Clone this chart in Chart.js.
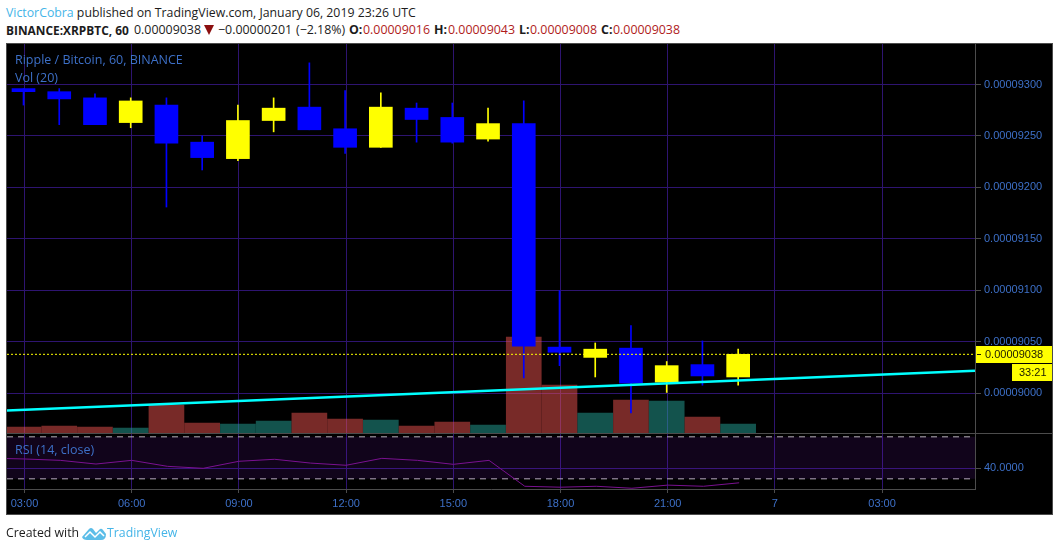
<!DOCTYPE html>
<html>
<head>
<meta charset="utf-8">
<script src="https://cdn.jsdelivr.net/npm/chart.js@4"></script>
<style>
html, body { margin: 0; padding: 0; background: #fff; }
body { width: 1059px; height: 551px; position: relative; overflow: hidden; font-family: "Open Sans", sans-serif; }
.txt { position: absolute; white-space: pre; font-size: 12.3px; line-height: 16px; color: #1c1c1c; }
.line2 { top: 22px; font-size: 12.4px; }
.panel { position: absolute; left: 6px; top: 43px; width: 1045px; height: 470px; background: #000; border: 1px solid #4c4c4c; }
.red { color: #b01c1c; }
.blue { color: #45b5e8; }
.ov { color: #3d70c8; font-size: 12.5px; }
canvas { position: absolute; left: 7px; }
</style>
</head>
<body>
<div class="txt" style="left:6px;top:5px"><span class="blue">VictorCobra</span> published on TradingView.com, January 06, 2019 23:26 UTC</div>
<b class="txt line2" style="left:6px;font-size:11.9px">BINANCE:XRPBTC, 60</b>
<div class="txt line2" style="left:134px">0.00009038</div>
<svg style="position:absolute;left:204px;top:25px" width="10" height="10"><polygon points="0,0 10,0 5,10" fill="#8b0f0f"/></svg>
<div class="txt line2" style="left:218px">−0.00000201</div>
<div class="txt line2" style="left:296px">(−2.18%)</div>
<b class="txt line2" style="left:349px">O:</b><div class="txt line2 red" style="left:363px">0.00009016</div>
<b class="txt line2" style="left:434px">H:</b><div class="txt line2 red" style="left:448px">0.00009043</div>
<b class="txt line2" style="left:519px">L:</b><div class="txt line2 red" style="left:530px">0.00009008</div>
<b class="txt line2" style="left:601px">C:</b><div class="txt line2 red" style="left:613px">0.00009038</div>
<div class="panel"></div>
<div style="position:absolute;left:7px;top:433px;width:1045px;height:1px;background:#4c4c4c"></div>
<canvas id="mainChart" width="1045" height="389" style="top:44px;width:1045px;height:389px"></canvas>
<canvas id="rsiChart" width="1045" height="80" style="top:434px;width:1045px;height:80px"></canvas>
<div class="txt ov" style="left:15px;top:52px">Ripple / Bitcoin, 60, BINANCE</div>
<div class="txt ov" style="left:15px;top:70px">Vol (20)</div>
<div class="txt ov" style="left:15px;top:442px">RSI (14, close)</div>
<div class="txt" style="left:6px;top:525px">Created with</div>
<svg style="position:absolute;left:82px;top:526px" width="24" height="15" viewBox="0 0 24 15">
  <path d="M0 11 L7 3 Q9 1 11 3 L14 7 L18 3 Q19.500 2 21 4 L24 8 Q24 14 19 14 L5 14 Q1 14 0 11 Z" fill="#5bbde8"/>
  <path d="M3 11 L8 6 L13 11 L18 6 L22 10" fill="none" stroke="#fff" stroke-width="1.500"/>
</svg>
<div class="txt blue" style="left:107px;top:525px">TradingView</div>
<script>
const candleOpen  = [9296,9293,9287,9263,9280,9244,9228,9265,9278,9257,9239,9277,9268,9247,9262,9045,9035,9044,9011,9028,9016];
const candleClose = [9293,9286,9261,9284,9243,9229,9265,9277,9256,9239,9278,9266,9244,9262,9046,9040,9043,9010,9027,9017,9038];
const candleHigh  = [9296,9296,9291,9287,9287,9250,9280,9287,9321,9294,9292,9282,9282,9277,9284,9100,9049,9066,9031,9051,9043];
const candleLow   = [9280,9261,9261,9258,9181,9217,9226,9254,9256,9233,9239,9244,9243,9245,9015,9027,9016,8981,9001,9008,9008];
const volumes     = [6,7,6,5,28,10,9,12,20,14,13,7,11,8,96,48,20,33,32,16,9];
const rsiStart    = 49.3;
const rsiValues   = [48.9,47.6,44.1,47.6,41.9,40,46.7,48.6,45,42.9,49.5,47.6,43.8,47.6,22.9,22,22.9,21,24,22.9,26.2];
const priceTicks  = [9000,9050,9100,9150,9200,9250,9300];
const rsiTicks    = [40];
const timeTicks   = [0,3,6,9,12,15,18,21,24];
const timeLabels  = ['03:00','06:00','09:00','12:00','15:00','18:00','21:00','7','03:00'];
const trendX      = [-0.49,26.6];
const trendY      = [8983.5,9022];
const lastPrice   = 9038;
const rsiUpper    = 70;
const rsiLower    = 30;

const gridColor = '#2e1470';
const axisColor = '#4c4c4c';
const labelColor = '#3d70c8';
const xMin = -0.49, xMax = 26.6;
// candles sit about a pixel left of the grid lines
const barShift = 0.028;
const index = candleOpen.map((v, i) => i);

function isUp(i) { return candleClose[i] >= candleOpen[i]; }
function toPrice(v) { return (v / 1e8).toFixed(8); }

// fixed pane geometry, no auto padding from the tick labels
function fitRight(s) { s.width = 77; s.paddingTop = 0; s.paddingBottom = 0; }

// price tag and countdown on the right axis
const priceTag = {
    id: 'priceTag',
    afterDraw(chart) {
        const ctx = chart.ctx;
        const y = Math.round(chart.scales.y.getPixelForValue(lastPrice));
        const left = chart.chartArea.right + 1;
        ctx.save();
        ctx.fillStyle = '#ffff00';
        ctx.fillRect(left, y - 8, 76, 17);
        ctx.fillRect(left + 36, y + 10, 40, 17);
        ctx.fillStyle = '#1a1a00';
        ctx.font = '11px "Liberation Sans"';
        ctx.textBaseline = 'middle';
        ctx.fillText(toPrice(lastPrice), left + 9, y + 1);
        ctx.fillText('33:21', left + 43, y + 19);
        ctx.strokeStyle = '#1a1a00';
        ctx.beginPath();
        ctx.moveTo(left + 1, y + 0.5);
        ctx.lineTo(left + 5, y + 0.5);
        ctx.stroke();
        ctx.restore();
    }
};

new Chart(document.getElementById('mainChart'), {
    type: 'bar',
    data: {
        datasets: [
            {
                type: 'line',
                data: trendX.map((x, i) => ({ x: x, y: trendY[i] })),
                borderColor: '#00ffff',
                borderWidth: 2.5,
                pointRadius: 0,
                order: 0
            },
            {
                type: 'line',
                data: [{ x: xMin, y: lastPrice }, { x: xMax, y: lastPrice }],
                borderColor: '#ffff00',
                borderWidth: 1,
                borderDash: [2, 2],
                pointRadius: 0,
                order: 0
            },
            {
                data: index.map(i => ({ x: i, y: [candleOpen[i], candleClose[i]] })),
                xAxisID: 'xBars',
                backgroundColor: index.map(i => isUp(i) ? '#ffff00' : '#0000ff'),
                barThickness: 23,
                grouped: false,
                order: 1
            },
            {
                data: index.map(i => ({ x: i, y: [candleLow[i], candleHigh[i]] })),
                xAxisID: 'xBars',
                backgroundColor: index.map(i => isUp(i) ? '#ffff00' : '#0000ff'),
                barThickness: 1,
                grouped: false,
                order: 2
            },
            {
                data: index.map(i => ({ x: i, y: volumes[i] })),
                xAxisID: 'xBars',
                yAxisID: 'vol',
                backgroundColor: index.map(i => isUp(i) ? 'rgba(38,166,154,0.5)' : 'rgba(239,83,80,0.5)'),
                barThickness: 35,
                grouped: false,
                order: 3
            }
        ]
    },
    plugins: [priceTag],
    options: {
        responsive: false,
        animation: false,
        layout: { padding: 0 },
        plugins: { legend: { display: false }, tooltip: { enabled: false } },
        scales: {
            x: {
                type: 'linear',
                offset: false,
                min: xMin,
                max: xMax,
                afterBuildTicks(s) { s.ticks = timeTicks.map(v => ({ value: v })); },
                afterFit(s) { s.height = 0; s.paddingLeft = 0; s.paddingRight = 0; },
                ticks: { display: false },
                border: { display: false },
                grid: { color: gridColor, drawTicks: false, offset: false }
            },
            xBars: {
                type: 'linear',
                display: false,
                offset: false,
                min: xMin + barShift,
                max: xMax + barShift
            },
            y: {
                position: 'right',
                min: 8961.6,
                max: 9339.3,
                afterBuildTicks(s) { s.ticks = priceTicks.map(v => ({ value: v })); },
                afterFit: fitRight,
                ticks: {
                    color: labelColor,
                    font: { family: 'Liberation Sans', size: 11 },
                    padding: 3,
                    callback: v => toPrice(v)
                },
                border: { color: axisColor },
                grid: { color: gridColor, tickColor: axisColor, tickLength: 6 }
            },
            vol: {
                display: false,
                min: 0,
                max: 389
            }
        }
    }
});

new Chart(document.getElementById('rsiChart'), {
    type: 'line',
    data: {
        datasets: [
            {
                data: [{ x: xMin, y: rsiStart }].concat(index.map(i => ({ x: i, y: rsiValues[i] }))),
                borderColor: '#7a1190',
                borderWidth: 1,
                pointRadius: 0,
                order: 0
            },
            {
                data: [{ x: xMin, y: rsiUpper }, { x: xMax, y: rsiUpper }],
                borderColor: '#b9b4bd',
                borderWidth: 1,
                borderDash: [6, 5],
                pointRadius: 0,
                fill: '+1',
                backgroundColor: 'rgba(130,30,210,0.13)',
                order: 1
            },
            {
                data: [{ x: xMin, y: rsiLower }, { x: xMax, y: rsiLower }],
                borderColor: '#b9b4bd',
                borderWidth: 1,
                borderDash: [6, 5],
                pointRadius: 0,
                order: 1
            }
        ]
    },
    options: {
        responsive: false,
        animation: false,
        layout: { padding: 0 },
        plugins: { legend: { display: false }, tooltip: { enabled: false } },
        scales: {
            x: {
                type: 'linear',
                min: xMin,
                max: xMax,
                afterBuildTicks(s) { s.ticks = timeTicks.map(v => ({ value: v })); },
                afterFit(s) { s.height = 25; s.paddingLeft = 0; s.paddingRight = 0; },
                ticks: {
                    color: labelColor,
                    font: { family: 'Liberation Sans', size: 11 },
                    padding: 4,
                    maxRotation: 0,
                    callback: (v, i) => timeLabels[i]
                },
                border: { color: axisColor },
                grid: { color: gridColor, tickColor: axisColor, tickLength: 4 }
            },
            y: {
                position: 'right',
                min: 20.3,
                max: 72.7,
                afterBuildTicks(s) { s.ticks = rsiTicks.map(v => ({ value: v })); },
                afterFit: fitRight,
                ticks: {
                    color: labelColor,
                    font: { family: 'Liberation Sans', size: 11 },
                    padding: 3,
                    callback: v => v.toFixed(4)
                },
                border: { color: axisColor },
                grid: { color: gridColor, tickColor: axisColor, tickLength: 6 }
            }
        }
    }
});
</script>
</body>
</html>
